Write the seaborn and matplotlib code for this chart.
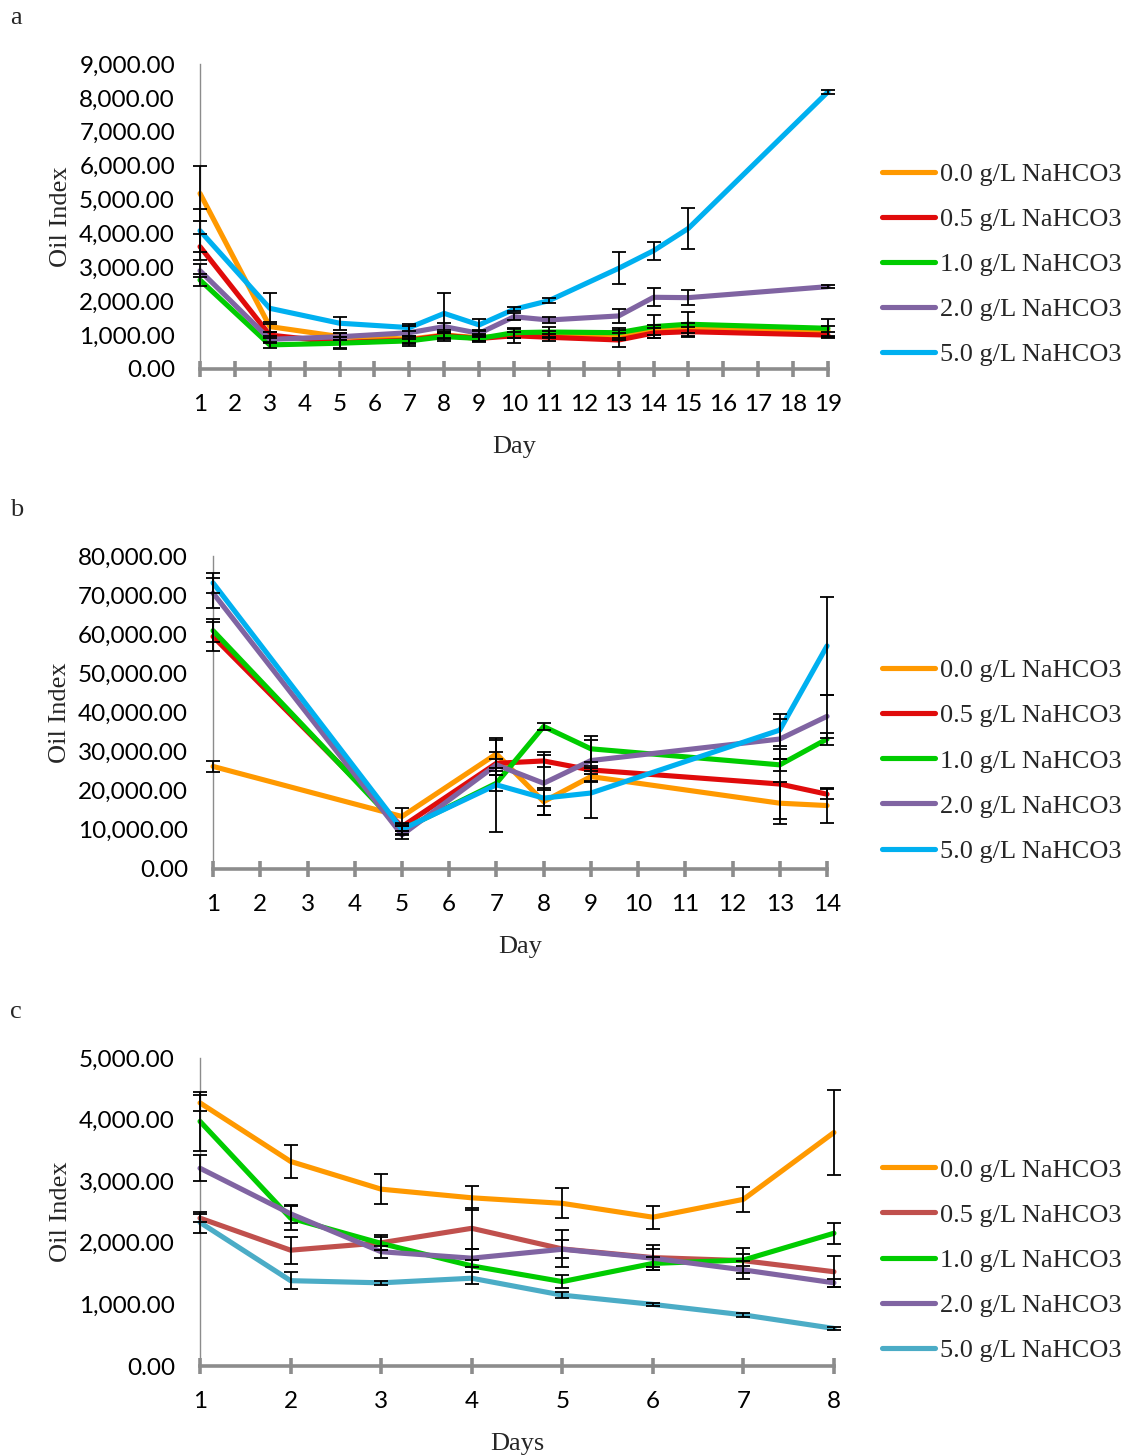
import numpy as np
import pandas as pd
import matplotlib
matplotlib.use("Agg")
import matplotlib.pyplot as plt
import seaborn as sns

# ---------------- data ----------------
treatments = ["0.0 g/L NaHCO3", "0.5 g/L NaHCO3", "1.0 g/L NaHCO3",
              "2.0 g/L NaHCO3", "5.0 g/L NaHCO3"]

# panel a
days_a = [1, 3, 5, 7, 8, 9, 10, 11, 13, 14, 15, 19]
a_00 = [5180, 1250, 955, 880, 1000, 920, 1000, 1010, 1000, 1150, 1200, 1130]
a_05 = [3610, 1000, 780, 850, 990, 900, 980, 935, 855, 1060, 1100, 1000]
a_10 = [2625, 710, 760, 830, 955, 900, 1070, 1090, 1070, 1250, 1320, 1200]
a_20 = [2900, 875, 950, 1070, 1250, 1050, 1540, 1445, 1565, 2115, 2105, 2430]
a_50 = [4080, 1790, 1350, 1220, 1640, 1300, 1760, 2015, 2970, 3490, 4150, 8180]
a_err_00 = [800, 150, 100, 100, 100, 100, 100, 100, 150, 150, 150, 150]
a_err_05 = [380, 100, 150, 100, 100, 100, 200, 100, 200, 150, 150, 100]
a_err_10 = [180, 100, 180, 150, 120, 80, 150, 150, 150, 350, 360, 270]
a_err_20 = [200, 100, 100, 200, 100, 100, 100, 100, 200, 270, 230, 50]
a_err_50 = [630, 460, 190, 100, 590, 170, 60, 80, 470, 270, 600, 50]

# panel b
days_b = [1, 5, 7, 8, 9, 13, 14]
b_00 = [26200, 13400, 29400, 17200, 23600, 16800, 16200]
b_05 = [59400, 10800, 27000, 27600, 25300, 21700, 19100]
b_10 = [60900, 10000, 21900, 36400, 30700, 26600, 33200]
b_20 = [70500, 8700, 26600, 21900, 27700, 33200, 39000]
b_50 = [73100, 10100, 21500, 18100, 19400, 35500, 57000]
b_err_00 = [1500, 2300, 3500, 3500, 1500, 5300, 4400]
b_err_05 = [3600, 1000, 3000, 1500, 1000, 9000, 1300]
b_err_10 = [3000, 1000, 2000, 1000, 3300, 1500, 1500]
b_err_20 = [3800, 1000, 1500, 8000, 5300, 5000, 5500]
b_err_50 = [2500, 1500, 12000, 2000, 6500, 4000, 12600]

# panel c
days_c = [1, 2, 3, 4, 5, 6, 7, 8]
c_00 = [4270, 3320, 2870, 2730, 2640, 2415, 2705, 3790]
c_05 = [2400, 1880, 2000, 2235, 1900, 1760, 1710, 1530]
c_10 = [3970, 2400, 1990, 1625, 1370, 1665, 1720, 2155]
c_20 = [3210, 2470, 1855, 1750, 1895, 1750, 1560, 1350]
c_50 = [2330, 1385, 1350, 1425, 1150, 1000, 830, 610]
c_err_00 = [130, 270, 245, 190, 245, 190, 200, 695]
c_err_05 = [70, 220, 120, 330, 300, 200, 200, 250]
c_err_10 = [480, 200, 100, 100, 100, 100, 100, 170]
c_err_20 = [210, 150, 100, 150, 150, 150, 150, 60]
c_err_50 = [170, 140, 30, 100, 50, 30, 30, 30]

colors_ab = ["#FF9900", "#E00B0B", "#00CC00", "#8064A2", "#00B0F0"]
colors_c = ["#FF9900", "#C0504D", "#00CC00", "#8064A2", "#4BACC6"]


def long_frame(days, series, errors):
    rows = []
    for name, vals, errs in zip(treatments, series, errors):
        for d, v, e in zip(days, vals, errs):
            rows.append({"Day": d, "Oil": v, "Err": e, "Treatment": name})
    return pd.DataFrame(rows)


df_a = long_frame(days_a, [a_00, a_05, a_10, a_20, a_50],
                  [a_err_00, a_err_05, a_err_10, a_err_20, a_err_50])
df_b = long_frame(days_b, [b_00, b_05, b_10, b_20, b_50],
                  [b_err_00, b_err_05, b_err_10, b_err_20, b_err_50])
df_c = long_frame(days_c, [c_00, c_05, c_10, c_20, c_50],
                  [c_err_00, c_err_05, c_err_10, c_err_20, c_err_50])

# ---------------- style ----------------
sns.set_theme(style="white")
plt.rcParams["font.family"] = ["Liberation Serif", "DejaVu Serif"]
TICK_FONT = "Lato"
GREY = "#8C8C8C"
FS = 19

fig = plt.figure(figsize=(11.32, 14.56), dpi=100)

panels = [
    # letter, frame, palette, xmax, ymax, ystep, xlabel, axes rect, legend anchor
    ("a", df_a, colors_ab, 19, 9000, 1000, "Day",
     [0.1767, 0.7466, 0.5547, 0.2094], (0.7792, 0.8884)),
    ("b", df_b, colors_ab, 14, 80000, 10000, "Day",
     [0.1882, 0.4032, 0.5424, 0.2150], (0.7792, 0.5475)),
    ("c", df_c, colors_c, 8, 5000, 1000, "Days",
     [0.1767, 0.0618, 0.5600, 0.2116], (0.7792, 0.2046)),
]

for letter, df, pal, xmax, ymax, ystep, xlab, rect, leg_xy in panels:
    ax = fig.add_axes(rect)
    sns.lineplot(data=df, x="Day", y="Oil", hue="Treatment",
                 hue_order=treatments, palette=pal, linewidth=3.7,
                 errorbar=None, ax=ax, clip_on=False, zorder=2)
    for name in treatments:
        sub = df[df["Treatment"] == name]
        ax.errorbar(sub["Day"], sub["Oil"], yerr=sub["Err"], fmt="none",
                    ecolor="black", elinewidth=1.3, capsize=4.8,
                    capthick=1.3, zorder=3, clip_on=False)

    ax.set_xlim(1, xmax)
    ax.set_ylim(0, ymax)
    ax.set_xticks(np.arange(1, xmax + 1))
    ax.set_yticks(np.arange(0, ymax + 1, ystep))
    ax.set_yticklabels([f"{v:,.2f}" for v in np.arange(0, ymax + 1, ystep)])

    for side in ("top", "right"):
        ax.spines[side].set_visible(False)
    ax.spines["left"].set_color(GREY)
    ax.spines["left"].set_linewidth(1.0)
    ax.spines["bottom"].set_color(GREY)
    ax.spines["bottom"].set_linewidth(2.6)
    ax.spines["bottom"].set_zorder(1)

    ax.tick_params(axis="x", direction="inout", length=12, width=2.6,
                   color=GREY, pad=12, bottom=True)
    ax.tick_params(axis="y", length=0, pad=18, left=True)
    for lab in ax.get_xticklabels() + ax.get_yticklabels():
        lab.set_fontfamily(TICK_FONT)
        lab.set_fontsize(17.5)
        lab.set_color("black")

    ax.set_xlabel(xlab, fontsize=FS, labelpad=15)
    ax.set_ylabel("Oil Index", fontsize=FS, labelpad=5)

    handles, labels = ax.get_legend_handles_labels()
    ax.legend(handles, labels, loc="upper left", bbox_to_anchor=leg_xy,
              bbox_transform=fig.transFigure, frameon=False, fontsize=FS,
              handlelength=2.0, handletextpad=0.2, labelspacing=0.82,
              borderpad=0, borderaxespad=0)

    top_px = {"a": 18, "b": 510, "c": 1012}[letter]
    fig.text(10 / 1132, 1 - top_px / 1456, letter, fontsize=FS,
             ha="left", va="center")

fig.savefig("out.png", dpi=100)
